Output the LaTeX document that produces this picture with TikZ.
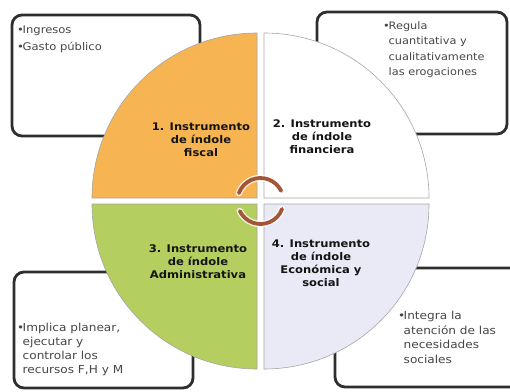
\documentclass[tikz,border=0pt]{standalone}
\usepackage{fontspec}
\setmainfont{DejaVu Sans}
\newfontfamily\boxfont{DejaVu Sans}[FakeStretch=1.1]
\definecolor{qorange}{RGB}{246,181,82}
\definecolor{qgreen}{RGB}{181,206,96}
\definecolor{qlav}{RGB}{234,234,247}
\definecolor{cycbrown}{RGB}{165,85,55}
\newcommand\mybul{\makebox[5.5pt][l]{•}}
\newcommand\myind{\hspace*{5.5pt}}
\begin{document}
\begin{tikzpicture}[x=1pt,y=-1pt,
  infobox/.style={draw=black!82, line width=2.8pt, rounded corners=10pt},
  quad/.style={draw=black!35, line width=0.6pt},
  boxtext/.style={anchor=north west, inner sep=0pt, align=left, text=black!72},
  labtext/.style={inner sep=0pt, align=center, text=black!92, font=\boxfont\bfseries\fontsize{10.5}{13}\selectfont},
  cyc/.style={draw=cycbrown, line width=3.8pt, line cap=round},
  halo/.style={draw=white, line width=6.5pt, line cap=round, opacity=0.8}
]
\useasboundingbox (0,0) rectangle (510,391);
\fill[white] (0,0) rectangle (510,391);
% info boxes
\draw[infobox] (12,15) rectangle (200,136);
\draw[infobox] (317,12) rectangle (507,134);
\draw[infobox] (14,272) rectangle (193,388);
\draw[infobox] (335,268) rectangle (540,387);
% quadrants
\filldraw[quad, fill=qorange] (257,198) -- (92,198) arc[start angle=180, end angle=90, radius=165pt] -- cycle;
\filldraw[quad, fill=white] (264,198) -- (264,33) arc[start angle=90, end angle=0, radius=165pt] -- cycle;
\filldraw[quad, fill=qlav] (264,204) -- (429,204) arc[start angle=0, end angle=-90, radius=165pt] -- cycle;
\filldraw[quad, fill=qgreen] (257,204) -- (257,369) arc[start angle=270, end angle=180, radius=165pt] -- cycle;
% cycle arcs
\coordinate (cyc) at (260.5,201);
\draw[halo] (cyc) ++(160:23pt) arc[start angle=160, end angle=26, radius=23pt];
\draw[halo] (cyc) ++(-20:23pt) arc[start angle=-20, end angle=-154, radius=23pt];
\draw[cyc] (cyc) ++(160:23pt) arc[start angle=160, end angle=26, radius=23pt];
\draw[cyc] (cyc) ++(-20:23pt) arc[start angle=-20, end angle=-154, radius=23pt];
% quadrant labels
\node[labtext] (q1) at (201,140) {1. Instrumento\\de índole\\fiscal};
\node[labtext] (q2) at (322,137) {2. Instrumento\\de índole\\financiera};
\node[labtext] (q3) at (198,262) {3. Instrumento\\de índole\\Administrativa};
\node[labtext] (q4) at (321,263) {4. Instrumento\\de índole\\Económica y\\social};
% box texts
\node[boxtext, font=\boxfont\fontsize{10.5}{15}\selectfont] (tl) at (17,26) {\mybul Ingresos\\[2pt]\mybul Gasto público};
\node[boxtext, font=\boxfont\fontsize{10.3}{15.5}\selectfont] (tr) at (383,21) {\mybul Regula\\\myind cuantitativa y\\\myind cualitativamente\\\myind las erogaciones};
\node[boxtext, font=\boxfont\fontsize{11}{14}\selectfont] (bl) at (17,323) {\mybul Implica planear,\\\myind ejecutar y\\\myind controlar los\\\myind recursos F,H y M};
\node[boxtext, font=\boxfont\fontsize{11}{14.5}\selectfont] (br) at (398,311) {\mybul Integra la\\\myind atención de las\\\myind necesidades\\\myind sociales};
\end{tikzpicture}
\end{document}
